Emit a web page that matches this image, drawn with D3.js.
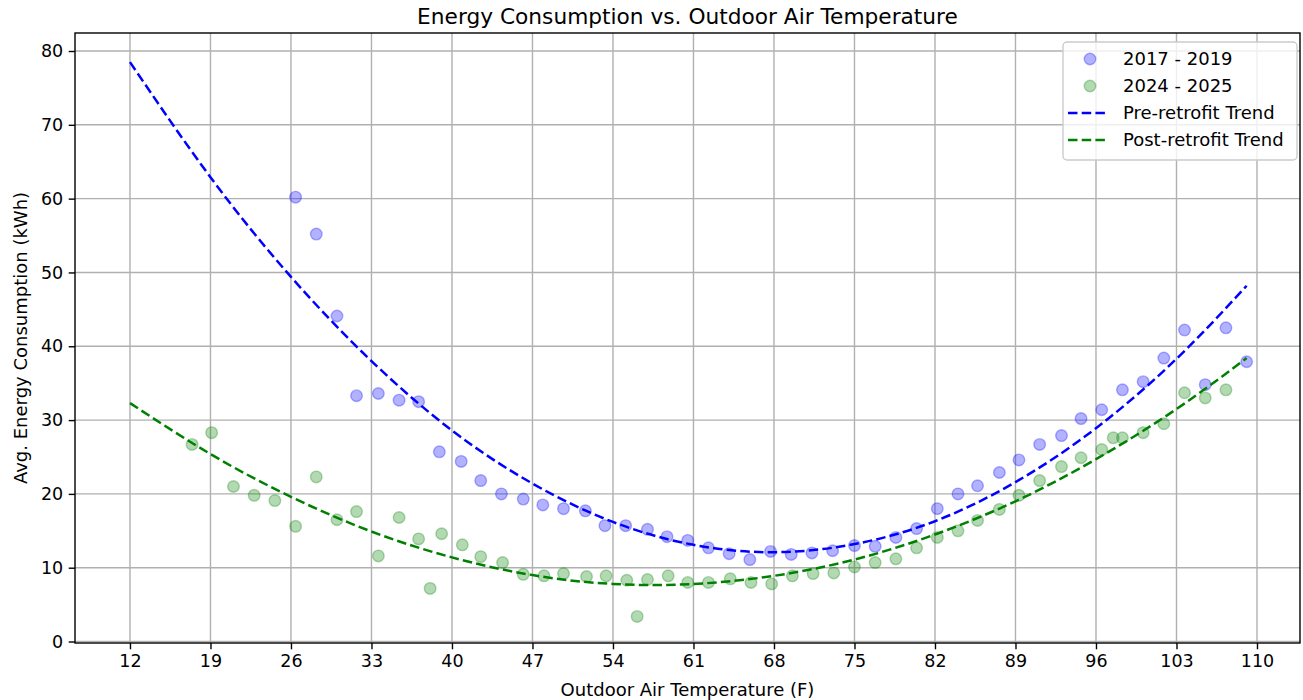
<!DOCTYPE html>
<html>
<head>
  <meta charset="utf-8">
  <title>Energy Consumption vs. Outdoor Air Temperature</title>
  <script src="https://cdn.jsdelivr.net/npm/d3@7/dist/d3.min.js"></script>
  <style>
    body { margin: 0; background: #fff; }
    text { font-family: "DejaVu Sans", sans-serif; fill: #000; }
  </style>
</head>
<body>
<script>
  // data
  var preTemp = [26.4, 28.2, 30.0, 31.7, 33.6, 35.4, 37.1, 38.9, 40.8, 42.5, 44.3, 46.2, 47.9, 49.7,
    51.6, 53.3, 55.1, 57.0, 58.7, 60.5, 62.3, 64.1, 65.9, 67.7, 69.5, 71.3, 73.1, 75.0, 76.8,
    78.6, 80.4, 82.2, 84.0, 85.7, 87.6, 89.3, 91.1, 93.0, 94.7, 96.5, 98.3, 100.1, 101.9, 103.7,
    105.5, 107.3, 109.1];
  var preEnergy = [60.2, 55.2, 44.1, 33.3, 33.6, 32.7, 32.5, 25.7, 24.4, 21.8, 20.0, 19.3, 18.5, 18.0,
    17.7, 15.7, 15.7, 15.2, 14.2, 13.7, 12.7, 11.9, 11.1, 12.2, 11.8, 12.0, 12.3, 13.0, 12.9,
    14.1, 15.3, 18.0, 20.0, 21.1, 22.9, 24.6, 26.7, 27.9, 30.2, 31.4, 34.1, 35.2, 38.4, 42.2,
    34.8, 42.5, 37.9];

  var postTemp = [17.4, 19.1, 21.0, 22.8, 24.6, 26.4, 28.2, 30.0, 31.7, 33.6, 35.4, 37.1, 38.1, 39.1,
    40.9, 42.5, 44.4, 46.2, 48.0, 49.7, 51.7, 53.4, 55.2, 56.1, 57.0, 58.8, 60.5, 62.3, 64.2,
    66.0, 67.8, 69.6, 71.4, 73.2, 75.0, 76.8, 78.6, 80.4, 82.2, 84.0, 85.7, 87.6, 89.3, 91.1,
    93.0, 94.7, 96.5, 97.5, 98.3, 100.1, 101.9, 103.7, 105.5, 107.3];
  var postEnergy = [26.7, 28.3, 21.0, 19.8, 19.1, 15.6, 22.3, 16.5, 17.6, 11.6, 16.8, 13.9, 7.2, 14.6,
    13.1, 11.5, 10.7, 9.1, 8.9, 9.2, 8.8, 8.9, 8.3, 3.4, 8.4, 8.9, 8.0, 8.0, 8.5,
    8.0, 7.8, 8.9, 9.2, 9.3, 10.1, 10.7, 11.2, 12.7, 14.1, 15.0, 16.4, 17.9, 19.8, 21.8,
    23.7, 24.9, 26.0, 27.6, 27.6, 28.3, 29.5, 33.7, 33.0, 34.1];

  // trend curves, sampled at the tick temperatures
  var trendTemp = [12, 19, 26, 33, 40, 47, 54, 61, 68, 75, 82, 89, 96, 103, 109.1];
  var preTrend = [78.5, 62.9, 49.4, 38.0, 28.6, 21.4, 16.2, 13.1, 12.1, 13.2, 16.3, 21.6, 28.9, 38.3, 48.2];
  var postTrend = [32.3, 25.4, 19.6, 14.9, 11.4, 9.0, 7.8, 7.8, 8.9, 11.1, 14.5, 19.0, 24.7, 31.5, 38.4];

  var xTicks = [12, 19, 26, 33, 40, 47, 54, 61, 68, 75, 82, 89, 96, 103, 110];
  var yTicks = [0, 10, 20, 30, 40, 50, 60, 70, 80];

  var seriesNames = ["2017 - 2019", "2024 - 2025", "Pre-retrofit Trend", "Post-retrofit Trend"];

  var W = 1303, H = 700;
  var margin = { top: 33, right: 3, bottom: 57, left: 75 },
      width = W - margin.left - margin.right,
      height = H - margin.top - margin.bottom;

  var svg = d3.select("body").append("svg")
      .attr("width", W)
      .attr("height", H);

  var g = svg.append("g")
      .attr("transform", "translate(" + margin.left + "," + margin.top + ")");

  var x = d3.scaleLinear().domain([7.22, 113.74]).range([0, width]);
  var y = d3.scaleLinear().domain([-0.2, 82.44]).range([height, 0]);

  // grid
  g.append("g").selectAll("line").data(xTicks).enter().append("line")
      .attr("x1", d => x(d)).attr("x2", d => x(d))
      .attr("y1", 0).attr("y2", height)
      .attr("stroke", "#b0b0b0").attr("stroke-width", 1.4);
  g.append("g").selectAll("line").data(yTicks).enter().append("line")
      .attr("x1", 0).attr("x2", width)
      .attr("y1", d => y(d)).attr("y2", d => y(d))
      .attr("stroke", "#b0b0b0").attr("stroke-width", 1.4);

  // scatter points
  var pre = preTemp.map((t, i) => ({ t: t, e: preEnergy[i] }));
  var post = postTemp.map((t, i) => ({ t: t, e: postEnergy[i] }));

  function dots(data, color) {
    g.append("g").selectAll("circle").data(data).enter().append("circle")
        .attr("cx", d => x(d.t))
        .attr("cy", d => y(d.e))
        .attr("r", 5.8)
        .attr("fill", color).attr("fill-opacity", 0.3)
        .attr("stroke", color).attr("stroke-opacity", 0.3).attr("stroke-width", 1.4);
  }
  dots(pre, "blue");
  dots(post, "green");

  // trend lines
  var line = d3.line()
      .x(d => x(d[0]))
      .y(d => y(d[1]))
      .curve(d3.curveNatural);

  g.append("path")
      .datum(trendTemp.map((t, i) => [t, preTrend[i]]))
      .attr("d", line)
      .attr("fill", "none").attr("stroke", "blue")
      .attr("stroke-width", 2.5).attr("stroke-dasharray", "9.5,4.2");
  g.append("path")
      .datum(trendTemp.map((t, i) => [t, postTrend[i]]))
      .attr("d", line)
      .attr("fill", "none").attr("stroke", "green")
      .attr("stroke-width", 2.5).attr("stroke-dasharray", "9.5,4.2");

  // axes
  var xAxis = d3.axisBottom(x).tickValues(xTicks).tickSize(6.3).tickPadding(5);
  var yAxis = d3.axisLeft(y).tickValues(yTicks).tickSize(6.3).tickPadding(5.5);

  var gx = g.append("g")
      .attr("transform", "translate(0," + height + ")")
      .call(xAxis);
  var gy = g.append("g").call(yAxis);

  [gx, gy].forEach(function (a) {
    a.select(".domain").remove();
    a.selectAll("line").attr("stroke", "#000").attr("stroke-width", 1.4);
    a.selectAll("text").style("font-size", "17.5px").attr("fill", "#000");
  });

  // frame
  g.append("rect")
      .attr("width", width).attr("height", height)
      .attr("fill", "none").attr("stroke", "#000").attr("stroke-width", 1.4);

  // title and axis labels
  svg.append("text")
      .attr("x", margin.left + width / 2).attr("y", 24)
      .attr("text-anchor", "middle")
      .style("font-size", "21.7px")
      .text("Energy Consumption vs. Outdoor Air Temperature");

  svg.append("text")
      .attr("x", margin.left + width / 2).attr("y", 696)
      .attr("text-anchor", "middle")
      .style("font-size", "18px")
      .text("Outdoor Air Temperature (F)");

  svg.append("text")
      .attr("transform", "translate(27," + (margin.top + height / 2) + ") rotate(-90)")
      .attr("text-anchor", "middle")
      .style("font-size", "18px")
      .text("Avg. Energy Consumption (kWh)");

  // legend
  var lg = svg.append("g").attr("transform", "translate(1063,42)");
  lg.append("rect")
      .attr("width", 234).attr("height", 118)
      .attr("rx", 4)
      .attr("fill", "#fff").attr("fill-opacity", 0.8)
      .attr("stroke", "#cccccc").attr("stroke-width", 1.4);

  var legendColors = ["blue", "green", "blue", "green"];
  seriesNames.forEach(function (name, i) {
    var row = lg.append("g").attr("transform", "translate(0," + (17 + i * 27) + ")");
    if (i < 2) {
      row.append("circle")
          .attr("cx", 27).attr("cy", 0).attr("r", 5.8)
          .attr("fill", legendColors[i]).attr("fill-opacity", 0.3)
          .attr("stroke", legendColors[i]).attr("stroke-opacity", 0.3).attr("stroke-width", 1.4);
    } else {
      row.append("line")
          .attr("x1", 5).attr("x2", 46).attr("y1", 0).attr("y2", 0)
          .attr("stroke", legendColors[i]).attr("stroke-width", 2.5)
          .attr("stroke-dasharray", "9.5,4.2");
    }
    row.append("text")
        .attr("x", 60).attr("y", 0).attr("dy", "0.35em")
        .style("font-size", "18px")
        .text(name);
  });
</script>
</body>
</html>
